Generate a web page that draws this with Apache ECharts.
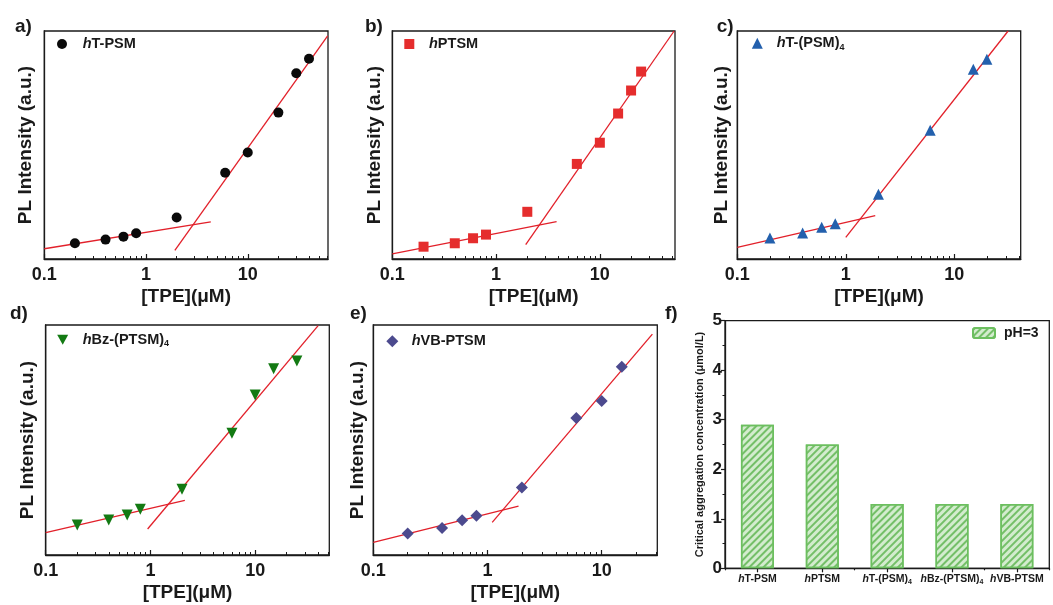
<!DOCTYPE html>
<html><head><meta charset="utf-8">
<script src="https://cdn.jsdelivr.net/npm/echarts@6/dist/echarts.min.js"></script>
<style>html,body{margin:0;padding:0;background:#fff}#c{width:1053px;height:605px}</style>
</head><body><div id="c"></div>
<script>
// ---- data ----
const NAMES = ['hT-PSM', 'hPTSM', 'hT-(PSM)4', 'hBz-(PTSM)4', 'hVB-PTSM'];
const X_A = [0.2, 0.4, 0.6, 0.8, 2, 6, 10, 20, 30, 40];
const Y_A = [6.9, 8.5, 9.8, 11.3, 18.2, 37.8, 46.7, 64.2, 81.5, 87.8];
const X_B = [0.2, 0.4, 0.6, 0.8, 2, 6, 10, 15, 20, 25];
const Y_B = [5.4, 6.9, 9.1, 10.7, 20.7, 41.7, 51.0, 63.8, 73.9, 82.2];
const X_C = [0.2, 0.4, 0.6, 0.8, 2, 6, 15, 20];
const Y_C = [9.2, 11.4, 13.9, 15.5, 28.4, 56.5, 83.2, 87.6];
const X_D = [0.2, 0.4, 0.6, 0.8, 2, 6, 10, 15, 25];
const Y_D = [13.0, 15.2, 17.4, 19.9, 28.6, 52.9, 69.6, 81.0, 84.3];
const X_E = [0.2, 0.4, 0.6, 0.8, 2, 6, 10, 15];
const Y_E = [9.4, 11.7, 15.1, 17.1, 29.3, 59.6, 67.0, 81.9];
// fitted lines: [x1, y1, x2, y2]
const FIT_A = [[0.1, 4.5, 4.33, 16.3], [1.92, 3.8, 61, 97.9]];
const FIT_B = [[0.1, 2.2, 3.83, 16.4], [1.93, 6.3, 52, 100]];
const FIT_C = [[0.1, 5.1, 1.87, 19.0], [1.0, 9.5, 31.4, 100]];
const FIT_D = [[0.1, 9.7, 2.13, 23.8], [0.94, 11.3, 39.9, 99.7]];
const FIT_E = [[0.1, 5.5, 1.87, 21.3], [1.10, 14.2, 27.8, 96]];
const X_MAX = [61.5, 53, 41, 51, 30.7];
const X_MAJOR = [0.1, 1, 10];
const X_MINOR = [0.2, 0.3, 0.4, 0.5, 0.6, 0.7, 0.8, 0.9, 2, 3, 4, 5, 6, 7, 8, 9, 20, 30, 40, 50, 60];
const CAC_CATS = ['hT-PSM', 'hPTSM', 'hT-(PSM)4', 'hBz-(PTSM)4', 'hVB-PTSM'];
const CAC_PH3 = [2.9, 2.5, 1.3, 1.3, 1.3];
const Y_TICKS_F = [0, 1, 2, 3, 4, 5];

// ---- layout / style ----
const FONT = '"Liberation Sans", Arial, sans-serif';
const INK = '#1a1a1a';
const RED = '#e2202a';
const GRIDS = [
  {left: 44.3, top: 31, width: 283.7, height: 228},
  {left: 392.3, top: 31, width: 282.7, height: 228},
  {left: 737.3, top: 31, width: 283.4, height: 228},
  {left: 45.7, top: 325, width: 283.6, height: 230},
  {left: 373.3, top: 325, width: 284, height: 230},
  {left: 725, top: 320.7, width: 324.3, height: 247.6}
];
const STYLES = [
  {symbol: 'circle', size: 10, color: '#0a0a0a', rot: 0, icon: 'circle'},
  {symbol: 'rect', size: 10, color: '#e52d2d', rot: 0, icon: 'rect'},
  {symbol: 'triangle', size: 11, color: '#2360ad', rot: 0, icon: 'triangle'},
  {symbol: 'triangle', size: 11, color: '#137a13', rot: 180, icon: 'path://M0,0L2,0L1,1.8Z'},
  {symbol: 'diamond', size: 12, color: '#4c4a8e', rot: 0, icon: 'diamond'}
];
const LEG_POS = [[62, 45], [409.3, 45], [757.3, 44.3], [62.7, 340.7], [392.3, 342.3]];
const LEG_TEXT_X = [82.7, 429, 776.7, 82.7, 411.7];
const YNAME_GAP = [9, 8.5, 6, 8, 6];
const XS = [X_A, X_B, X_C, X_D, X_E];
const YS = [Y_A, Y_B, Y_C, Y_D, Y_E];
const FITS = [FIT_A, FIT_B, FIT_C, FIT_D, FIT_E];

function richName(v) {
  let s = v.slice(1), sub = '';
  if (/\)4$/.test(s)) { sub = '4'; s = s.slice(0, -1); }
  return '{i|h}{b|' + s + '}' + (sub ? '{s|' + sub + '}' : '');
}
function richStyles(fs, subFs) {
  return {
    i: {fontStyle: 'italic', fontWeight: 'bold', fontSize: fs, fontFamily: FONT, color: INK, lineHeight: fs + 3},
    b: {fontWeight: 'bold', fontSize: fs, fontFamily: FONT, color: INK, lineHeight: fs + 3},
    s: {fontWeight: 'bold', fontSize: subFs, fontFamily: FONT, color: INK, lineHeight: subFs, verticalAlign: 'bottom'}
  };
}

const grid = GRIDS.map(g => Object.assign({show: true, borderColor: INK, borderWidth: 1.3, backgroundColor: 'transparent', containLabel: false}, g));
const xAxis = [], yAxis = [], series = [], legend = [];

for (let i = 0; i < 5; i++) {
  xAxis.push({
    type: 'log', logBase: 10, gridIndex: i, position: 'bottom', min: 0.1, max: X_MAX[i],
    axisLine: {show: true, onZero: false, lineStyle: {color: INK, width: 1.3}},
    axisTick: {show: true, inside: true, length: 5, customValues: X_MAJOR, lineStyle: {color: INK, width: 1.2}},
    axisLabel: {show: true, customValues: X_MAJOR, margin: 7, fontSize: 18, fontWeight: 'bold', fontFamily: FONT, color: INK,
      formatter: v => String(+(+v).toPrecision(3))},
    splitLine: {show: false}, minorTick: {show: false},
    name: '[TPE](μM)', nameLocation: 'middle', nameGap: 28.5,
    nameTextStyle: {fontSize: 19, fontWeight: 'bold', fontFamily: FONT, color: INK}
  });
  xAxis.push({
    type: 'log', logBase: 10, gridIndex: i, position: 'bottom', offset: 0, min: 0.1, max: X_MAX[i],
    axisLine: {show: false, onZero: false},
    axisTick: {show: true, inside: true, length: 3, customValues: X_MINOR, lineStyle: {color: INK, width: 1}},
    axisLabel: {show: false}, splitLine: {show: false}
  });
  yAxis.push({
    type: 'value', gridIndex: i, position: 'left', min: 0, max: 100,
    axisLine: {show: true, onZero: false, lineStyle: {color: INK, width: 1.3}},
    axisTick: {show: false}, axisLabel: {show: false}, splitLine: {show: false},
    name: 'PL Intensity (a.u.)', nameLocation: 'middle', nameGap: YNAME_GAP[i],
    nameTextStyle: {fontSize: 19, fontWeight: 'bold', fontFamily: FONT, color: INK}
  });
  const st = STYLES[i];
  series.push({
    type: 'scatter', name: NAMES[i], xAxisIndex: 2 * i, yAxisIndex: i, z: 3,
    symbol: st.symbol, symbolSize: st.size, symbolRotate: st.rot,
    itemStyle: {color: st.color, opacity: 1},
    data: XS[i].map((x, k) => [x, YS[i][k]])
  });
  FITS[i].forEach((f, k) => series.push({
    type: 'line', name: 'fit' + i + k, xAxisIndex: 2 * i, yAxisIndex: i, z: 2,
    symbol: 'none', silent: true, clip: true,
    lineStyle: {color: RED, width: 1.3},
    data: [[f[0], f[1]], [f[2], f[3]]]
  }));
  const iw = st.size;
  legend.push({
    data: [{name: NAMES[i], icon: st.icon}], left: LEG_POS[i][0] - iw / 2, top: LEG_POS[i][1] - 8.5, padding: 0,
    itemWidth: iw, itemHeight: iw, selectedMode: false, symbolRotate: 0,
    itemStyle: {color: st.color},
    formatter: n => richName(n),
    textStyle: {fontSize: 14.5, fontWeight: 'bold', fontFamily: FONT, color: INK, rich: richStyles(14.5, 9),
      padding: [0, 0, 0, Math.max(0, LEG_TEXT_X[i] - (LEG_POS[i][0] + iw / 2) - 5)]}
  });
}

// panel f
xAxis.push({
  type: 'category', gridIndex: 5, position: 'bottom', data: CAC_CATS,
  axisLine: {show: true, onZero: false, lineStyle: {color: INK, width: 1.3}},
  axisTick: {show: true, alignWithLabel: true, inside: false, length: 4, lineStyle: {color: INK, width: 1.2}},
  axisLabel: {interval: 0, margin: 4, formatter: v => richName(v), fontSize: 10.5, fontWeight: 'bold', fontFamily: FONT, color: INK, rich: richStyles(10.5, 7)},
  splitLine: {show: false}
});
xAxis.push({
  type: 'category', gridIndex: 5, position: 'bottom', offset: 0, data: CAC_CATS,
  axisLine: {show: false},
  axisTick: {show: true, alignWithLabel: false, inside: false, length: 2, lineStyle: {color: INK, width: 1.2}},
  axisLabel: {show: false}, splitLine: {show: false}
});
yAxis.push({
  type: 'value', gridIndex: 5, position: 'left', min: Y_TICKS_F[0], max: Y_TICKS_F[Y_TICKS_F.length - 1], interval: 1,
  axisLine: {show: true, onZero: false, lineStyle: {color: INK, width: 1.3}},
  axisTick: {show: true, inside: false, length: 4, lineStyle: {color: INK, width: 1.2}},
  minorTick: {show: true, splitNumber: 2, length: 2.5, lineStyle: {color: INK, width: 1}},
  axisLabel: {margin: 3, fontSize: 17, fontWeight: 'bold', fontFamily: FONT, color: INK},
  splitLine: {show: false},
  name: 'Critical aggregation concentration (μmol/L)', nameLocation: 'middle', nameGap: 20,
  nameTextStyle: {fontSize: 11, fontWeight: 'bold', fontFamily: FONT, color: INK}
});
const HATCH = {symbol: 'rect', symbolSize: 1, dashArrayX: [1, 0], dashArrayY: [1.6, 2.2], rotation: -Math.PI / 4, color: '#74bf68'};
series.push({
  type: 'bar', name: 'pH=3', xAxisIndex: 10, yAxisIndex: 5, barWidth: 33,
  itemStyle: {color: '#d3ecce', borderColor: '#6cbf5f', borderWidth: 1.5, decal: HATCH},
  data: CAC_PH3
});
legend.push({
  data: ['pH=3'], left: 972, top: 326, padding: 0, itemWidth: 22, itemHeight: 10, selectedMode: false,
  textStyle: {fontSize: 14, fontWeight: 'bold', fontFamily: FONT, color: INK, padding: [0, 0, 0, 4]}
});

const LABELS = [['a)', 15, 27], ['b)', 365, 27], ['c)', 716.7, 27], ['d)', 10, 314.5], ['e)', 350, 314.5], ['f)', 665, 314.5]];
const graphic = LABELS.map(l => ({
  type: 'text', left: l[1], top: l[2] - 10,
  style: {text: l[0], fontSize: 19, fontWeight: 'bold', fontFamily: FONT, fill: INK}
}));

const chart = echarts.init(document.getElementById('c'), null, {renderer: 'canvas'});
chart.setOption({animation: false, backgroundColor: '#fff', grid, xAxis, yAxis, series, legend, graphic});
</script></body></html>
